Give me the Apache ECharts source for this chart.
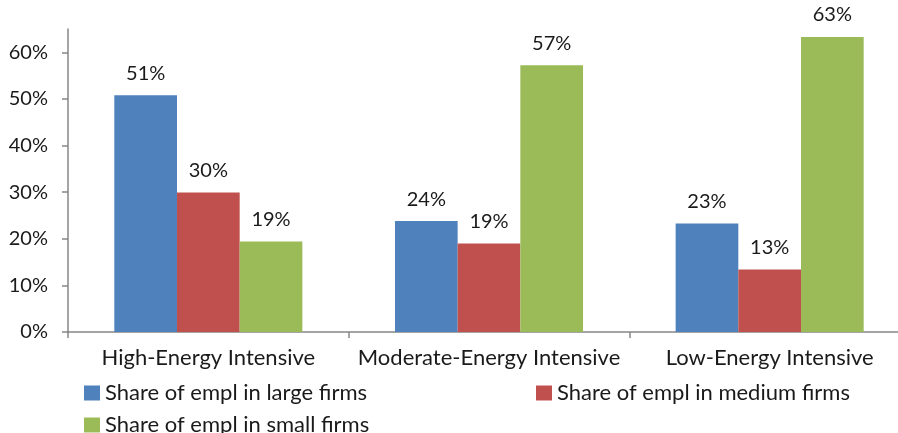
<!DOCTYPE html>
<html>
<head>
<meta charset="utf-8">
<script src="https://cdn.jsdelivr.net/npm/echarts@6/dist/echarts.min.js"></script>
<style>
  html, body { margin: 0; padding: 0; background: #fff; overflow: hidden; }
  /* the plot area runs a little past the right edge of the window */
  #chart { width: 910px; height: 433px; }
</style>
</head>
<body>
<div id="chart"></div>
<script>
// Employment shares by firm size across energy-intensity groups (percent)
const categories = ['High-Energy Intensive', 'Moderate-Energy Intensive', 'Low-Energy Intensive'];
const largeFirms = [50.8, 23.8, 23.3];
const mediumFirms = [29.9, 19.0, 13.4];
const smallFirms = [19.4, 57.2, 63.3];
const yTicks = [0, 10, 20, 30, 40, 50, 60];

const seriesNames = [
  'Share of empl in large firms',
  'Share of empl in medium firms',
  'Share of empl in small firms'
];
const colors = ['#4F81BD', '#C0504D', '#9BBB59'];
const FONT = 'Lato';
const textColor = '#1a1a1a';
const axisColor = '#868686';

function barSeries(name, data, color) {
  return {
    name: name,
    type: 'bar',
    data: data,
    barGap: '0%',
    barCategoryGap: '33%',
    itemStyle: { color: color },
    label: {
      show: true,
      position: 'top',
      distance: 12,
      fontFamily: FONT,
      fontSize: 20,
      color: textColor,
      formatter: p => Math.round(p.value) + '%'
    }
  };
}

function legendAt(name, left, top) {
  return {
    data: [name],
    left: left,
    top: top,
    icon: 'rect',
    itemWidth: 16,
    itemHeight: 15,
    itemGap: 0,
    padding: 0,
    selectedMode: false,
    textStyle: { fontFamily: FONT, fontSize: 22, lineHeight: 22, color: textColor }
  };
}

const chart = echarts.init(document.getElementById('chart'), null, { renderer: 'canvas' });
chart.setOption({
  animation: false,
  color: colors,
  grid: { left: 68, right: 0, top: 29, bottom: 101, containLabel: false },
  legend: [
    legendAt(seriesNames[0], 84, 382),
    legendAt(seriesNames[1], 536, 382),
    legendAt(seriesNames[2], 84, 414)
  ],
  xAxis: {
    type: 'category',
    data: categories,
    axisLine: { lineStyle: { color: axisColor, width: 1.5 } },
    axisTick: { show: true, length: 6, alignWithLabel: false, lineStyle: { color: axisColor, width: 1.5 } },
    axisLabel: { interval: 0, fontFamily: FONT, fontSize: 22, color: textColor, margin: 15 },
    splitLine: { show: false }
  },
  yAxis: {
    type: 'value',
    min: 0,
    max: 65,
    interval: 10,
    axisLine: { show: true, lineStyle: { color: axisColor, width: 1.5 } },
    axisTick: { show: true, length: 6, lineStyle: { color: axisColor, width: 1.5 }, customValues: yTicks },
    axisLabel: {
      fontFamily: FONT, fontSize: 20, color: textColor, margin: 20,
      customValues: yTicks,
      formatter: '{value}%'
    },
    splitLine: { show: false }
  },
  series: [
    barSeries(seriesNames[0], largeFirms, colors[0]),
    barSeries(seriesNames[1], mediumFirms, colors[1]),
    barSeries(seriesNames[2], smallFirms, colors[2])
  ]
});
</script>
</body>
</html>
